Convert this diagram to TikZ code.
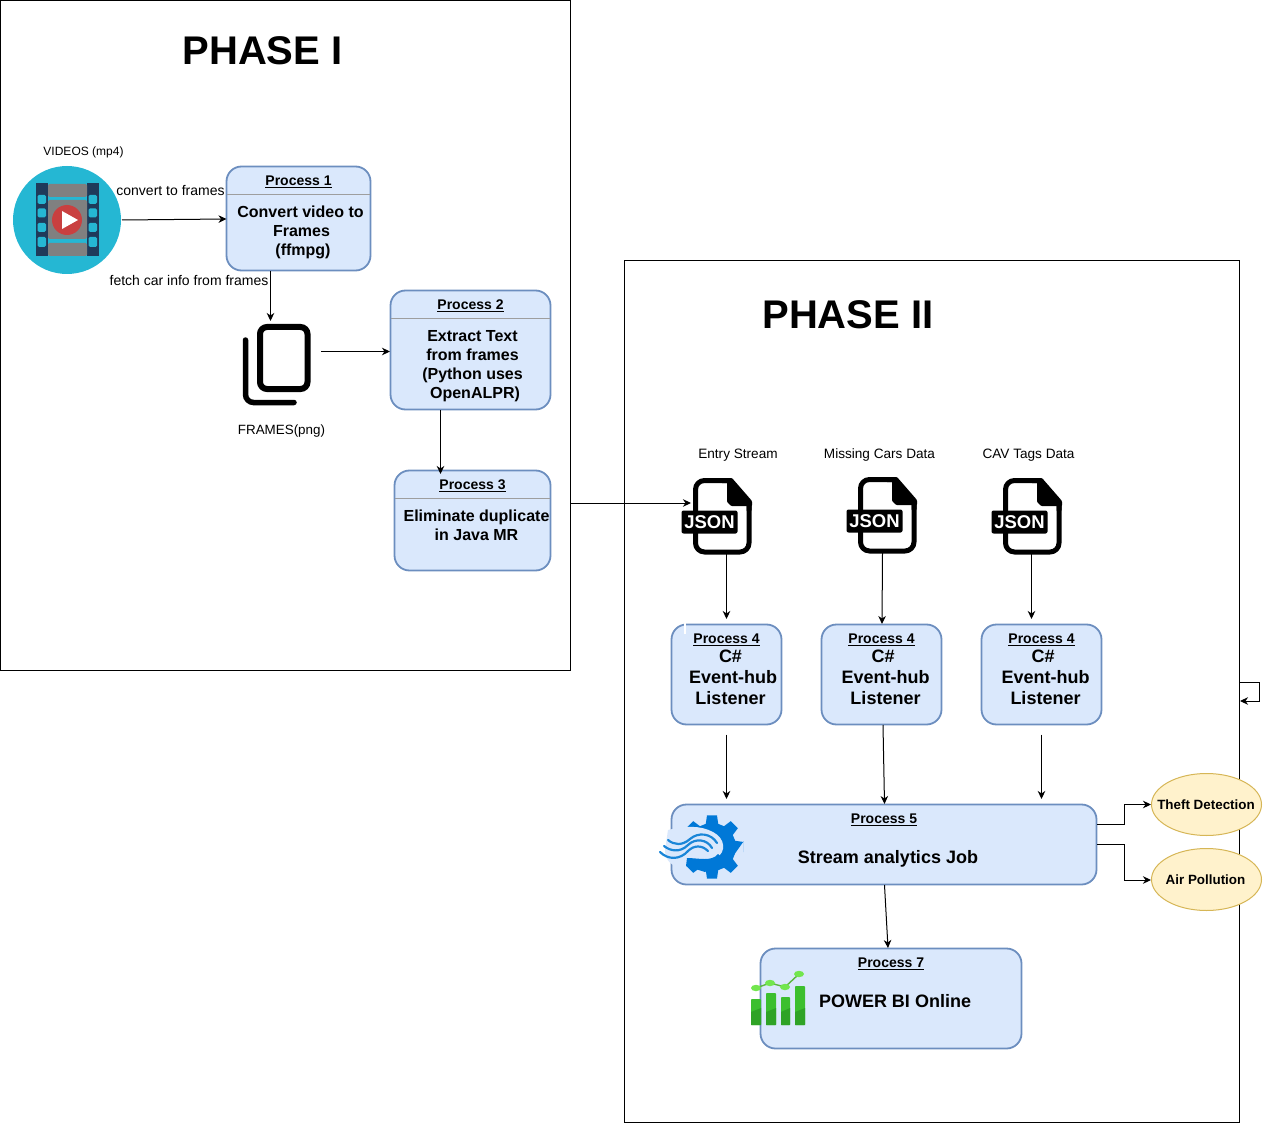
\documentclass[tikz,border=0pt]{standalone}
\usepackage{fontspec}
\setmainfont{Liberation Sans}
\usetikzlibrary{arrows.meta,shapes.geometric,calc}
\definecolor{boxfill}{HTML}{DAE8FC}
\definecolor{boxline}{HTML}{6C8EBF}
\definecolor{noteFill}{HTML}{FFF2CC}
\definecolor{noteLine}{HTML}{D6B656}
\definecolor{teal1}{HTML}{25B7D3}
\definecolor{navy1}{HTML}{1F3A5A}
\definecolor{gray1}{HTML}{808080}
\definecolor{red1}{HTML}{C94040}
\definecolor{gearblue}{HTML}{0078D7}
\definecolor{waveblue}{HTML}{1A86D8}
\definecolor{bargreen}{HTML}{3CBF2E}
\definecolor{bardark}{HTML}{2FA326}
\definecolor{dotgreen}{HTML}{72E64E}
\tikzset{
  x=1pt,y=-1pt,
  frame box/.style={draw=black,line width=1pt,fill=none,inner sep=0pt,outer sep=0pt},
  proc/.style={draw=boxline,fill=boxfill,line width=1.8pt,rounded corners=15pt,inner sep=0pt,outer sep=0pt},
  note/.style={ellipse,draw=noteLine,fill=noteFill,line width=1pt,inner sep=0pt,outer sep=0pt},
  notetxt/.style={font=\fontsize{13.4}{15}\selectfont\bfseries,inner sep=0pt},
  ttl/.style={font=\fontsize{40}{46}\selectfont\bfseries,inner sep=0pt},
  head/.style={font=\fontsize{14}{16}\selectfont\bfseries,inner sep=0pt},
  body/.style={font=\fontsize{16}{19}\selectfont\bfseries,align=center,inner sep=0pt},
  bodyb/.style={font=\fontsize{18}{21}\selectfont\bfseries,align=center,inner sep=0pt},
  small/.style={font=\fontsize{14}{16}\selectfont,inner sep=0pt},
  arr/.style={draw=black,line width=1pt,-{Stealth[length=8pt,width=7.5pt,inset=2.5pt]}},
  sep/.style={draw=black!38,line width=1pt},
}
\newcommand{\jsonicon}[3]{%
  \begin{scope}[shift={(#1,#2)}]
    \draw[line width=5pt,line join=round,rounded corners=9pt] (728,480.5) -- (695.5,480.5) -- (695.5,552) -- (749,552) -- (749,504);
    \draw[line width=5pt,line join=round,line cap=round] (722,480.5) -- (729,480.5) -- (749,503) -- (749,510);
    \fill[rounded corners=1pt] (727,478) -- (732,478) -- (752,501) -- (752,506) -- (731,506) -- (727,502) -- cycle;
    \node[fill=black,rounded corners=2pt,minimum width=56pt,minimum height=23pt,inner sep=0pt,text=white,font=\fontsize{18.5}{20}\selectfont\bfseries] (#3) at (709.5,522) {JSON};
  \end{scope}}
\begin{document}
\begin{tikzpicture}
\useasboundingbox (0,0) rectangle (1269,1123);
\fill[white] (0,0) rectangle (1269,1123);

% frames
\node[frame box,minimum width=570pt,minimum height=670pt] (phaseA) at (285.5,335.5) {};
\node[frame box,minimum width=615pt,minimum height=861pt] (phaseB) at (932,691.5) {};
\node[ttl] (t1) at (262.5,51) {PHASE I};
\node[ttl] (t2) at (848,315) {PHASE II};

% video icon
\node[circle,fill=teal1,minimum size=108pt,inner sep=0pt,outer sep=0pt] (video) at (67,220) {};
\fill[navy1] (36,183) rectangle (48,256);
\fill[navy1] (87,183) rectangle (99,256);
\foreach \a/\b in {195/204,208.5/217.5,223/232,237/247}{
  \fill[teal1,rounded corners=1.5pt] (37.5,\a) rectangle (46,\b);
  \fill[teal1,rounded corners=1.5pt] (88.5,\a) rectangle (97,\b);
}
\fill[gray1,rounded corners=1.5pt] (48,184) rectangle (87,197);
\fill[gray1,rounded corners=1.5pt] (48,200) rectangle (87,239);
\fill[gray1,rounded corners=1.5pt] (48,243) rectangle (87,256);
\fill[red1] (67,220) circle (15);
\fill[white] (62,211) -- (78,220) -- (62,229) -- cycle;
\node[small,font=\fontsize{12}{14}\selectfont] (videoLbl) at (83.5,152) {VIDEOS (mp4)};
\node[small] (lblConvert) at (170.5,190.5) {convert to frames};
\node[small] (lblFetch) at (189,280.5) {fetch car info from frames};

% frames icon
\draw[line width=6pt,rounded corners=7pt] (260,327) rectangle (307.5,389);
\draw[line width=5.5pt,line cap=round,rounded corners=8pt] (245.5,340) -- (245.5,402.5) -- (294,402.5);
\node[small,font=\fontsize{13.4}{15}\selectfont] (framesLbl) at (281.5,431) {FRAMES(png)};

% process 1-3
\node[proc,minimum width=144pt,minimum height=104pt] (p1) at (298.5,218.5) {};
\draw[sep] (227,194.5) -- (370,194.5);
\node[head] (p1h) at (298.5,182) {\underline{Process 1}};
\node[body] (p1b) at (301.5,232) {Convert video to\hspace*{2pt}\\Frames\\\hspace*{3pt}(ffmpg)};

\node[proc,minimum width=160pt,minimum height=119pt] (p2) at (470.5,350) {};
\draw[sep] (391,318.5) -- (550,318.5);
\node[head] (p2h) at (470.5,306) {\underline{Process 2}};
\node[body] (p2b) at (472.5,366) {Extract Text\\from frames\\(Python uses\\\hspace*{5pt}OpenALPR)};

\node[proc,minimum width=156pt,minimum height=100pt] (p3) at (472.5,520.5) {};
\draw[sep] (395,498.5) -- (550,498.5);
\node[head] (p3h) at (472.5,486) {\underline{Process 3}};
\node[body] (p3b) at (476.5,525.5) {Eliminate duplicate\\in Java MR};

% JSON icons
\jsonicon{0}{0}{j1}
\jsonicon{165}{-1}{j2}
\jsonicon{310}{0}{j3}
\node[small,font=\fontsize{13.6}{15}\selectfont] (j1l) at (738,455.5) {Entry Stream};
\node[small,font=\fontsize{13.6}{15}\selectfont] (j2l) at (879.5,454.5) {Missing Cars Data};
\node[small,font=\fontsize{13.6}{15}\selectfont] (j3l) at (1028.5,455) {CAV Tags Data};

% process 4
\node[proc,minimum width=110pt,minimum height=100pt] (p4a) at (726.5,674.5) {};
\fill[white] (683.5,623) rectangle (685.5,634);
\node[proc,minimum width=120pt,minimum height=100pt] (p4b) at (881.5,674.5) {};
\node[proc,minimum width=120pt,minimum height=100pt] (p4c) at (1041.5,674.5) {};
\node[head] (p4ah) at (726.5,640) {\underline{Process 4}};
\node[head] (p4bh) at (881.5,640) {\underline{Process 4}};
\node[head] (p4ch) at (1041.5,640) {\underline{Process 4}};
\node[bodyb] (p4ab) at (733,677) {C\#\hspace*{5pt}\\Event-hub\\Listener\hspace*{5pt}};
\node[bodyb] (p4bb) at (885.5,677) {C\#\hspace*{5pt}\\Event-hub\\Listener};
\node[bodyb] (p4cb) at (1045.5,677) {C\#\hspace*{5pt}\\Event-hub\\Listener};

% process 5
\node[proc,minimum width=425pt,minimum height=80pt] (p5) at (884,844.5) {};
\node[head] (p5h) at (884,820) {\underline{Process 5}};
\node[font=\fontsize{18}{21}\selectfont\bfseries,inner sep=0pt] (p5b) at (888,859) {Stream analytics Job};
% gear
\fill[gearblue] (712+32*cos 10, 847-32*sin 10)
  \foreach \k in {0,...,7}{
    -- ({712+32*cos(45*\k-9)},{847-32*sin(45*\k-9)})
    -- ({712+32*cos(45*\k+9)},{847-32*sin(45*\k+9)})
    -- ({712+24*cos(45*\k+15)},{847-24*sin(45*\k+15)})
    -- ({712+24*cos(45*\k+30)},{847-24*sin(45*\k+30)})
  } -- cycle;
\fill[boxfill] (668,830) .. controls (685,826) and (700,825) .. (713,832)
  .. controls (725,838) and (727,852) .. (716,858)
  .. controls (705,864) and (690,862) .. (682,866)
  .. controls (672,868) and (665,860) .. (665,850) -- cycle;
\fill[gearblue] (687,858) .. controls (698,858) and (712,862) .. (718,854) -- (725,860) -- (705,872) -- (686,866) -- cycle;
\draw[waveblue,line width=2.2pt,line cap=round] (668,840) .. controls (674,845) and (682,846) .. (690,839) .. controls (698,832) and (711,833) .. (717,843);
\draw[waveblue,line width=2.2pt,line cap=round] (664,846) .. controls (670,851) and (680,853) .. (688,845) .. controls (695,838) and (707,839) .. (712,848);
\draw[waveblue,line width=2.2pt,line cap=round] (660,852) .. controls (668,860) and (680,860) .. (688,851) .. controls (694,845) and (702,845) .. (708,851);

% process 7
\node[proc,minimum width=261pt,minimum height=100pt] (p7) at (891,998.5) {};
\node[head] (p7h) at (891,964) {\underline{Process 7}};
\node[font=\fontsize{18}{21}\selectfont\bfseries,inner sep=0pt] (p7b) at (895,1001) {POWER BI Online};
\foreach \xa/\xb/\yt in {751/761/999,766/776/993,781/790/997,795/805/986}{
  \fill[bargreen,rounded corners=0.8pt] (\xa,\yt) rectangle (\xb,1025);
  \fill[bardark] (\xa,1012) -- (\xb,1008) -- (\xb,1025) -- (\xa,1025) -- cycle;
}
\draw[dotgreen!80!black,line width=1.4pt] (756,988) -- (770,983) -- (785,987) -- (799,974);
\foreach \px/\py in {756/988,770/983,785/987,799/974}{
  \fill[dotgreen] (\px,\py) ellipse (5 and 3.2);
}

% notes
\node[note,minimum width=110pt,minimum height=62pt] (n1) at (1206.5,804.5) {};
\node[notetxt] (n1t) at (1206,804.5) {Theft Detection};
\node[note,minimum width=110pt,minimum height=62pt] (n2) at (1206.5,879.5) {};
\node[notetxt] (n2t) at (1205.5,879.5) {Air Pollution};

% connector ends
\coordinate (p1s) at (270.5,271);
\coordinate (frT) at (270.5,321);
\coordinate (frR) at (321,351.5);
\coordinate (p2w) at (390,351.5);
\coordinate (p2s) at (440.5,410);
\coordinate (p3n) at (440.5,474);
\coordinate (pAe) at (570.5,503);
\coordinate (j1w) at (691,503);
\coordinate (j1s) at (726.5,554);
\coordinate (p4an) at (726.5,619);
\coordinate (j2s) at (882.5,553);
\coordinate (p4bn) at (882,624);
\coordinate (j3s) at (1031.5,554);
\coordinate (p4cn) at (1031.5,619);
\coordinate (p4as) at (726.5,734.5);
\coordinate (p5a) at (726.5,799);
\coordinate (p4bs) at (883,725);
\coordinate (p5n) at (884.5,804);
\coordinate (p4cs) at (1041.5,734.5);
\coordinate (p5c) at (1041.5,799);
\coordinate (p5s) at (884.5,885);
\coordinate (p7n) at (888,948);
\coordinate (p5e1) at (1097,824.5);
\coordinate (p5e2) at (1097,844.5);
\coordinate (n1w) at (1151,804.5);
\coordinate (n2w) at (1151,880);
\coordinate (loopA) at (1240,682);
\coordinate (loopB) at (1240,701);

% connectors
\draw[arr] (video.east) ++(1,0) -- (p1.west |- 0,219);
\draw[arr] (p1s) -- (frT);
\draw[arr] (frR) -- (p2w);
\draw[arr] (p2s) -- (p3n);
\draw[arr] (pAe) -- (j1w);
\draw[arr] (j1s) -- (p4an);
\draw[arr] (j2s) -- (p4bn);
\draw[arr] (j3s) -- (p4cn);
\draw[arr] (p4as) -- (p5a);
\draw[arr] (p4bs) -- (p5n);
\draw[arr] (p4cs) -- (p5c);
\draw[arr] (p5s) -- (p7n);
\draw[arr] (p5e1) -- ++(27.5,0) |- (n1w);
\draw[arr] (p5e2) -- ++(27.5,0) |- (n2w);
\draw[arr] (loopA) -- ++(19.5,0) |- (loopB);
\end{tikzpicture}
\end{document}
